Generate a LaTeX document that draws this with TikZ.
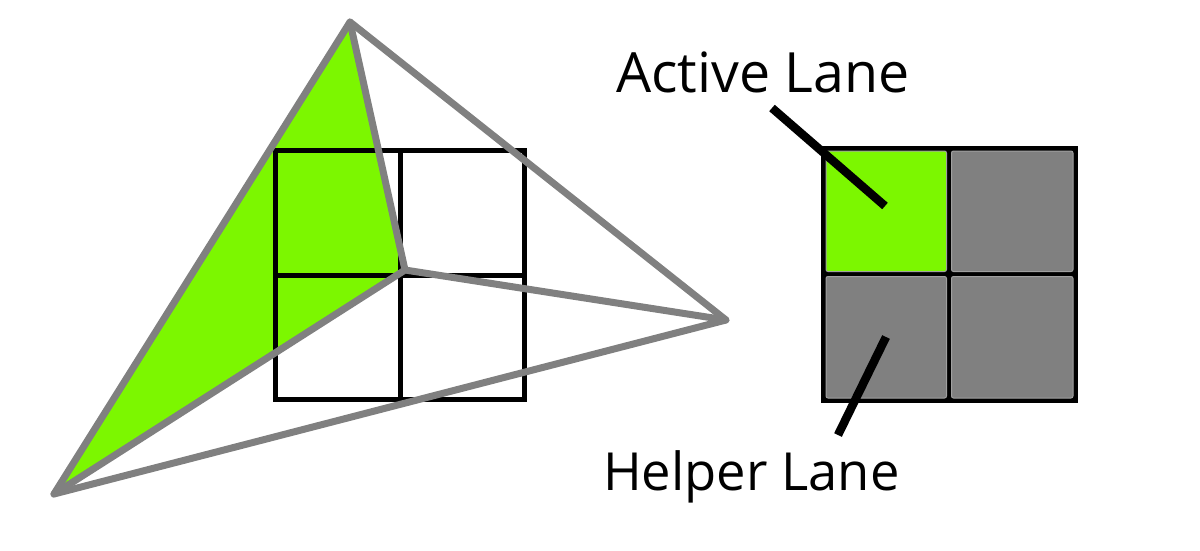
\documentclass[tikz,border=0pt]{standalone}
\usepackage{fontspec}
\setmainfont{Open Sans}
\definecolor{lanegreen}{RGB}{124,247,0}
\definecolor{edgegray}{RGB}{128,128,128}
\definecolor{cellrim}{RGB}{160,160,160}
\tikzset{
  triedge/.style={draw=edgegray, line width=7pt, line join=round, line cap=round},
  gridline/.style={draw=black, line width=5.5pt},
  lanecell/.style={draw=cellrim, line width=1pt, rounded corners=2pt},
  leader/.style={draw=black, line width=8.5pt},
  labeltext/.style={inner sep=0pt, anchor=base west}
}
\begin{document}
\begin{tikzpicture}[x=1pt,y=-1pt]
\useasboundingbox (0,0) rectangle (1200,550);
% ---- left: triangles over pixel grid
\coordinate (A) at (350,22);
\coordinate (B) at (54,494);
\coordinate (C) at (726,320);
\coordinate (P) at (405,270);
\fill[lanegreen] (A) -- (B) -- (P) -- cycle;
\draw[gridline] (275.5,150.5) rectangle (524.5,399.5);
\draw[gridline] (400.5,150.5) -- (400.5,399.5);
\draw[gridline] (275.5,275.5) -- (524.5,275.5);
\draw[triedge] (A) -- (B) -- (C) -- cycle;
\draw[triedge] (A) -- (P) (B) -- (P) (P) -- (C);
% ---- right: quad of lanes
\fill[black] (821,146) rectangle (1078,403);
\draw[lanecell, fill=lanegreen] (826,151) rectangle (946.5,271.5);
\draw[lanecell, fill=edgegray] (951.5,151) rectangle (1073,271.5);
\draw[lanecell, fill=edgegray] (826,276.5) rectangle (946.5,398);
\draw[lanecell, fill=edgegray] (951.5,276.5) rectangle (1073,398);
% ---- labels
\node[labeltext, font=\fontsize{55.5}{60}\selectfont] (active) at (616,92) {Active Lane};
\node[labeltext, font=\fontsize{52.5}{60}\selectfont] (helper) at (603,490) {Helper Lane};
\coordinate (activeFrom) at (772,108);
\coordinate (activeTo) at (885,206);
\coordinate (helperFrom) at (838,435);
\coordinate (helperTo) at (886,337);
\draw[leader] (activeFrom) -- (activeTo);
\draw[leader] (helperFrom) -- (helperTo);
\end{tikzpicture}
\end{document}
